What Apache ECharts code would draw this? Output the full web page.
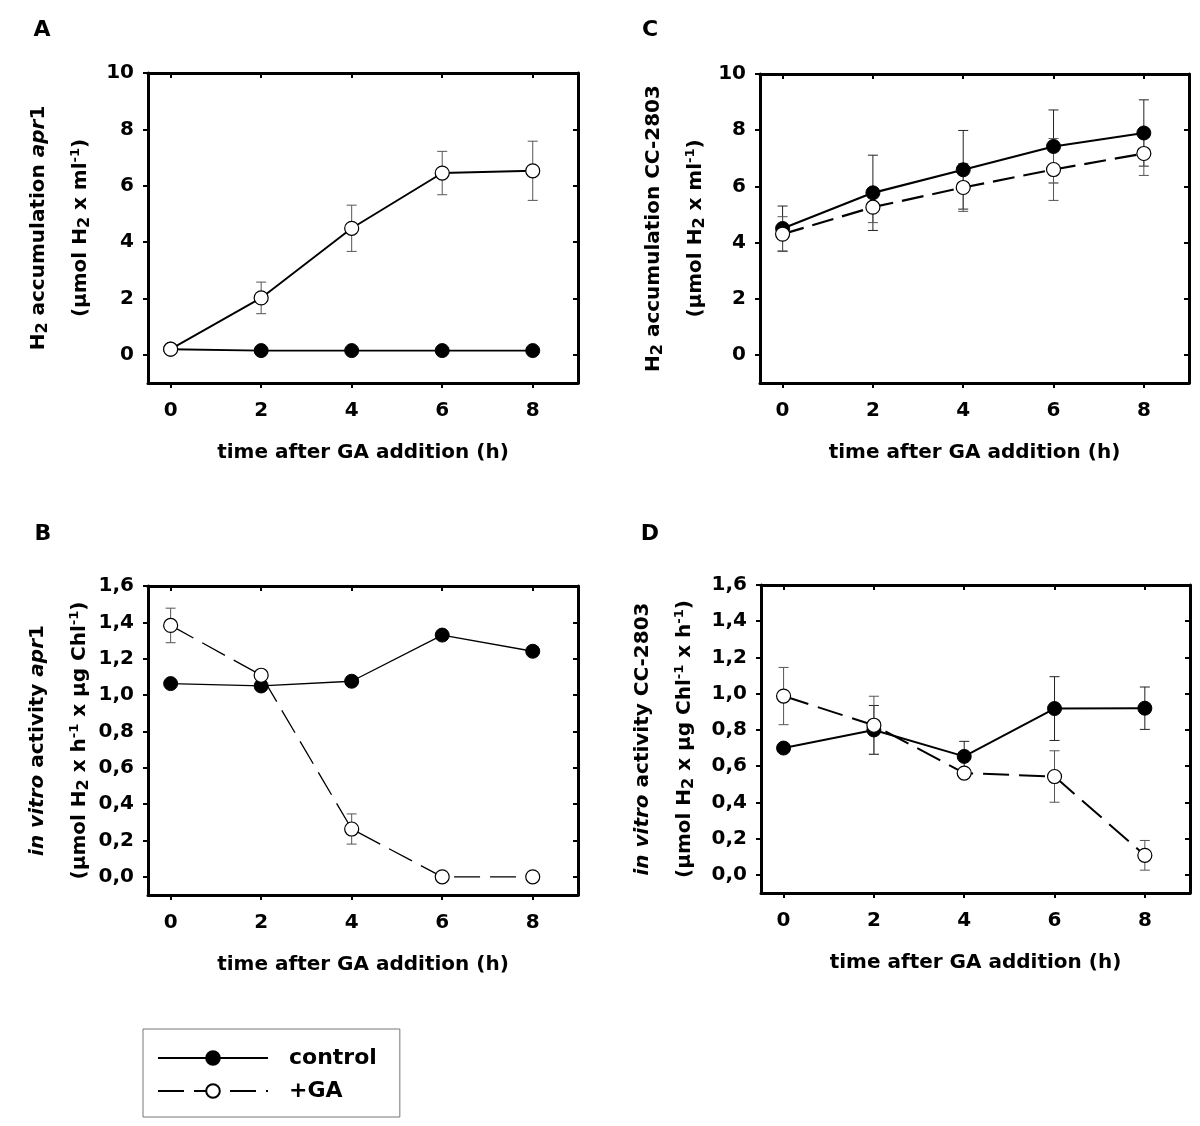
<!DOCTYPE html>
<html>
<head>
<meta charset="utf-8">
<script src="https://cdn.jsdelivr.net/npm/echarts@6/dist/echarts.min.js"></script>
<style>
html,body{margin:0;padding:0;background:#fff;}
#chart{width:1200px;height:1126px;}
</style>
</head>
<body>
<div id="chart"></div>
<script>
// ---------- data ----------
const hours = [0, 2, 4, 6, 8];
const xTickValues = [0, 2, 4, 6, 8];
const xTickLabels = ['0', '2', '4', '6', '8'];
const yTicksAC = [0, 2, 4, 6, 8, 10];
const yTickLabelsAC = ['0', '2', '4', '6', '8', '10'];
const yTicksBD = [0, 0.2, 0.4, 0.6, 0.8, 1.0, 1.2, 1.4, 1.6];
const yTickLabelsBD = ['0,0', '0,2', '0,4', '0,6', '0,8', '1,0', '1,2', '1,4', '1,6'];

// Panel A: H2 accumulation apr1
const aControl = [0.2, 0.15, 0.15, 0.15, 0.15];
const aControlErr = [0, 0, 0, 0, 0];
const aGA = [0.2, 2.02, 4.49, 6.45, 6.53];
const aGAErr = [0, 0.56, 0.82, 0.77, 1.05];

// Panel B: in vitro activity apr1
const bControl = [1.063, 1.05, 1.076, 1.33, 1.241];
const bControlErr = [0, 0, 0, 0, 0];
const bGA = [1.383, 1.109, 0.263, 0, 0];
const bGAErr = [0.095, 0, 0.083, 0, 0];

// Panel C: H2 accumulation CC-2803
const cControl = [4.5, 5.77, 6.59, 7.42, 7.9];
const cControlErr = [0.8, 1.34, 1.4, 1.3, 1.18];
const cGA = [4.3, 5.26, 5.96, 6.6, 7.17];
const cGAErr = [0.62, 0.55, 0.85, 1.1, 0.78];

// Panel D: in vitro activity CC-2803
const dControl = [0.70, 0.80, 0.654, 0.918, 0.92];
const dControlErr = [0.01, 0.135, 0.083, 0.176, 0.117];
const dGA = [0.987, 0.826, 0.562, 0.543, 0.108];
const dGAErr = [0.158, 0.16, 0, 0.142, 0.082];

// ---------- styling ----------
const FONT = 'DejaVu Sans';
const rich = {
  n:   {fontFamily: FONT, fontWeight: 'bold', fontSize: 20, color: '#000', lineHeight: 24},
  it:  {fontFamily: FONT, fontWeight: 'bold', fontStyle: 'italic', fontSize: 20, color: '#000', lineHeight: 24},
  sub: {fontFamily: FONT, fontWeight: 'bold', fontSize: 16, color: '#000', lineHeight: 16, verticalAlign: 'bottom'},
  sup: {fontFamily: FONT, fontWeight: 'bold', fontSize: 13, color: '#000', lineHeight: 13, verticalAlign: 'top'},
  gap: {fontSize: 10, lineHeight: 18}
};

const panels = [
  {key: 'B', grid: {left: 148, top: 586, width: 430, height: 309}, yMin: -0.1, yMax: 1.6, yTicks: yTicksBD, yLabels: yTickLabelsBD,
   yName: '{it|in vitro}{n| activity }{it|apr}{n|1}\n{gap| }\n{n|(µmol H}{sub|2}{n| x h}{sup|-1}{n| x µg Chl}{sup|-1}{n|)}', yGap: 56,
   control: bControl, controlErr: bControlErr, ga: bGA, gaErr: bGAErr, lw: 1.3, gaDash: [26, 10]},
  {key: 'D', grid: {left: 761, top: 585, width: 429, height: 308}, yMin: -0.1, yMax: 1.6, yTicks: yTicksBD, yLabels: yTickLabelsBD,
   yName: '{it|in vitro}{n| activity CC-2803}\n{gap| }\n{n|(µmol H}{sub|2}{n| x µg Chl}{sup|-1}{n| x h}{sup|-1}{n|)}', yGap: 64,
   control: dControl, controlErr: dControlErr, ga: dGA, gaErr: dGAErr, lw: 2, gaDash: [26, 10]},
  {key: 'C', grid: {left: 760, top: 74, width: 429, height: 309}, yMin: -1, yMax: 10, yTicks: yTicksAC, yLabels: yTickLabelsAC,
   yName: '{n|H}{sub|2}{n| accumulation CC-2803}\n{gap| }\n{n|(µmol H}{sub|2}{n| x ml}{sup|-1}{n|)}', yGap: 52,
   control: cControl, controlErr: cControlErr, ga: cGA, gaErr: cGAErr, lw: 2.2, gaDash: [22, 9]},
  {key: 'A', grid: {left: 148, top: 73, width: 430, height: 310}, yMin: -1, yMax: 10, yTicks: yTicksAC, yLabels: yTickLabelsAC,
   yName: '{n|H}{sub|2}{n| accumulation }{it|apr}{n|1}\n{gap| }\n{n|(µmol H}{sub|2}{n| x ml}{sup|-1}{n|)}', yGap: 55,
   control: aControl, controlErr: aControlErr, ga: aGA, gaErr: aGAErr, lw: 1.9, gaDash: 'solid'}
];

const grids = [], xAxes = [], yAxes = [], series = [];
const axisLineStyle = {color: '#000', width: 3};
const labelStyle = {fontFamily: FONT, fontWeight: 'bold', fontSize: 20, color: '#000'};

function lookup(ticks, labels) {
  return function (v) {
    for (let i = 0; i < ticks.length; i++) if (Math.abs(ticks[i] - v) < 1e-9) return labels[i];
    return '';
  };
}

function errRender(color) {
  return function (params, api) {
    const x = api.value(0), y = api.value(1), e = api.value(2);
    if (!e) return null;
    const top = api.coord([x, y + e]);
    const bot = api.coord([x, y - e]);
    const hw = 5;
    const st = {stroke: color, lineWidth: 1};
    return {type: 'group', children: [
      {type: 'line', shape: {x1: top[0], y1: top[1], x2: bot[0], y2: bot[1]}, style: st},
      {type: 'line', shape: {x1: top[0] - hw, y1: top[1], x2: top[0] + hw, y2: top[1]}, style: st},
      {type: 'line', shape: {x1: bot[0] - hw, y1: bot[1], x2: bot[0] + hw, y2: bot[1]}, style: st}
    ]};
  };
}

panels.forEach(function (p, gi) {
  grids.push(Object.assign({outerBoundsMode: 'none'}, p.grid));
  const xb = xAxes.length;
  xAxes.push({
    gridIndex: gi, type: 'value', min: -0.5, max: 9, position: 'bottom',
    axisLine: {show: true, onZero: false, lineStyle: axisLineStyle},
    axisTick: {show: true, inside: false, length: 5, lineStyle: {color: '#000', width: 2}, customValues: xTickValues},
    axisLabel: {show: true, margin: 18, customValues: xTickValues, formatter: lookup(xTickValues, xTickLabels), ...labelStyle},
    splitLine: {show: false},
    name: 'time after GA addition (h)', nameLocation: 'middle', nameGap: 60, nameMoveOverlap: false,
    nameTextStyle: {fontFamily: FONT, fontWeight: 'bold', fontSize: 20, color: '#000'}
  });
  xAxes.push({
    gridIndex: gi, type: 'value', min: -0.5, max: 9, position: 'top',
    axisLine: {show: true, onZero: false, lineStyle: axisLineStyle},
    axisTick: {show: true, inside: true, length: 5, lineStyle: {color: '#000', width: 2}, customValues: xTickValues},
    axisLabel: {show: false}, splitLine: {show: false}
  });
  const yl = yAxes.length;
  yAxes.push({
    gridIndex: gi, type: 'value', min: p.yMin, max: p.yMax, position: 'left',
    axisLine: {show: true, onZero: false, lineStyle: axisLineStyle},
    axisTick: {show: true, inside: false, length: 5, lineStyle: {color: '#000', width: 2}, customValues: p.yTicks},
    axisLabel: {show: true, margin: 14, customValues: p.yTicks, formatter: lookup(p.yTicks, p.yLabels), ...labelStyle},
    splitLine: {show: false},
    name: p.yName, nameLocation: 'middle', nameGap: p.yGap, nameRotate: 90, nameMoveOverlap: false,
    nameTextStyle: {rich: rich, align: 'center'}
  });
  yAxes.push({
    gridIndex: gi, type: 'value', min: p.yMin, max: p.yMax, position: 'right',
    axisLine: {show: true, onZero: false, lineStyle: axisLineStyle},
    axisTick: {show: true, inside: true, length: 5, lineStyle: {color: '#000', width: 2}, customValues: p.yTicks},
    axisLabel: {show: false}, splitLine: {show: false}
  });

  series.push({
    type: 'custom', name: 'errC' + p.key, xAxisIndex: xb, yAxisIndex: yl, z: 1, silent: true,
    data: hours.map(function (h, i) { return [h, p.control[i], p.controlErr[i]]; }),
    renderItem: errRender('#222')
  });
  series.push({
    type: 'custom', name: 'errG' + p.key, xAxisIndex: xb, yAxisIndex: yl, z: 1, silent: true,
    data: hours.map(function (h, i) { return [h, p.ga[i], p.gaErr[i]]; }),
    renderItem: errRender('#555')
  });
  series.push({
    type: 'line', name: 'control', xAxisIndex: xb, yAxisIndex: yl, z: 3, silent: true,
    data: hours.map(function (h, i) { return [h, p.control[i]]; }),
    symbol: 'circle', symbolSize: 14,
    itemStyle: {color: '#000', borderColor: '#000', borderWidth: 1},
    lineStyle: {color: '#000', width: p.lw, type: 'solid'}
  });
  series.push({
    type: 'line', name: '+GA', xAxisIndex: xb, yAxisIndex: yl, z: 4, silent: true,
    data: hours.map(function (h, i) { return [h, p.ga[i]]; }),
    symbol: 'circle', symbolSize: 14,
    itemStyle: {color: '#fff', borderColor: '#000', borderWidth: 1.2},
    lineStyle: {color: '#000', width: p.lw, type: p.gaDash}
  });
});

const letterFont = 'bold 22px "DejaVu Sans"';
const option = {
  animation: false,
  backgroundColor: '#fff',
  grid: grids,
  xAxis: xAxes,
  yAxis: yAxes,
  series: series,
  legend: {
    data: ['control', '+GA'], orient: 'vertical', left: 143, top: 1029,
    itemWidth: 110, itemHeight: 17, itemGap: 11, padding: [18, 23, 15, 14],
    borderColor: '#777', borderWidth: 1, selectedMode: false,
    textStyle: {fontFamily: FONT, fontWeight: 'bold', fontSize: 22, color: '#000', lineHeight: 22, padding: [0, 0, 0, 16]}
  },
  graphic: [
    {type: 'text', x: 42, y: 30, style: {text: 'A', font: letterFont, fill: '#000', align: 'center', verticalAlign: 'middle'}},
    {type: 'text', x: 650, y: 30, style: {text: 'C', font: letterFont, fill: '#000', align: 'center', verticalAlign: 'middle'}},
    {type: 'text', x: 43, y: 534, style: {text: 'B', font: letterFont, fill: '#000', align: 'center', verticalAlign: 'middle'}},
    {type: 'text', x: 650, y: 534, style: {text: 'D', font: letterFont, fill: '#000', align: 'center', verticalAlign: 'middle'}}
  ]
};

const chart = echarts.init(document.getElementById('chart'), null, {renderer: 'canvas'});
chart.setOption(option);
</script>
</body>
</html>
